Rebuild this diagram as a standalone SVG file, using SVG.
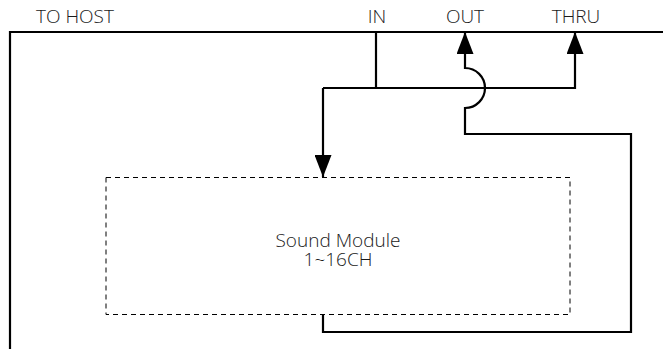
<svg xmlns="http://www.w3.org/2000/svg" width="663" height="349" viewBox="0 0 663 349">
<style>
.w{fill:none;stroke:#000;stroke-width:2.2}
.t{font-family:"Open Sans","DejaVu Sans",sans-serif;font-size:19px;font-weight:300;fill:#1a1a1a}
.box{fill:none;stroke:#000;stroke-width:1;stroke-dasharray:5,4}
</style>
<defs>
<marker id="ah" markerUnits="userSpaceOnUse" markerWidth="22" markerHeight="17" refX="22" refY="8.5" orient="auto">
<path d="M0,0 L22,8.5 L0,17 z" fill="#000"/>
</marker>
</defs>
<g id="labels">
<text class="t" x="36" y="23">TO HOST</text>
<text class="t" x="377" y="23" text-anchor="middle">IN</text>
<text class="t" x="465" y="23" text-anchor="middle">OUT</text>
<text class="t" x="576" y="23" text-anchor="middle">THRU</text>
</g>
<g id="host">
<path class="w" d="M10,349 V32 H663"/>
</g>
<g id="sound-module">
<rect class="box" x="106" y="177.5" width="464" height="137"/>
<text class="t" x="338" y="247" text-anchor="middle">Sound Module</text>
<text class="t" x="338" y="266" text-anchor="middle">1~16CH</text>
</g>
<g id="connectors">
<path class="w" d="M376,32 V88"/>
<path class="w" d="M323,88 H575 V32" marker-end="url(#ah)"/>
<path class="w" d="M323,88 V177" marker-end="url(#ah)"/>
<path class="w" d="M323,314 V332 H631 V134 H465 V108 A20,20 0 0 0 465,68 V32" marker-end="url(#ah)"/>
</g>
</svg>
